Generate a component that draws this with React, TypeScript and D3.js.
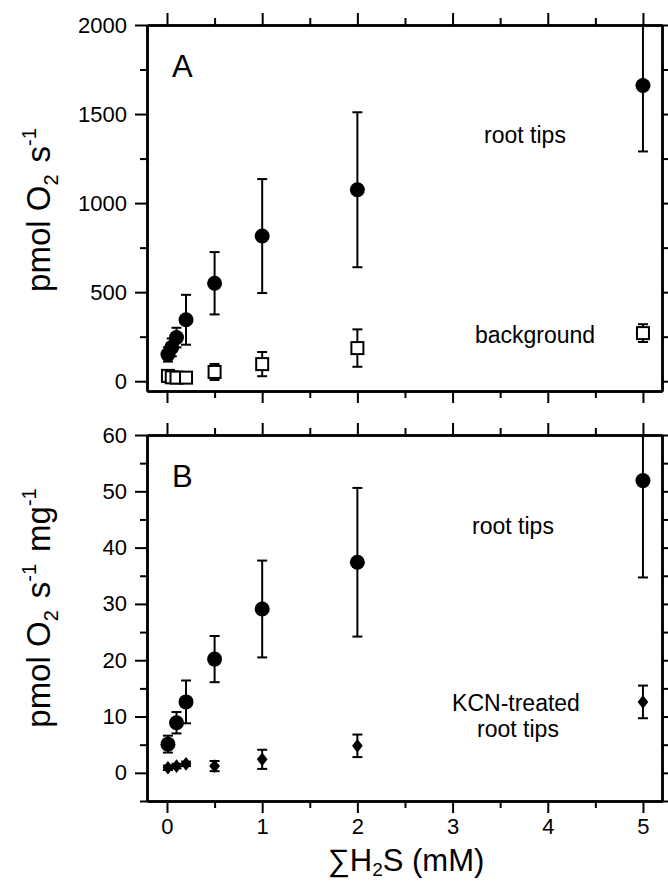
import React, { useEffect, useRef } from "react";
import * as d3 from "d3";

// x = total sulfide (mM)
const xTicks = [0, 1, 2, 3, 4, 5];
const xMinor = [0.5, 1.5, 2.5, 3.5, 4.5];

// panel A: pmol O2 s-1
const aTipsX = [0.01, 0.05, 0.1, 0.2, 0.5, 1, 2, 5];
const aTipsY = [150, 190, 245, 345, 550, 815, 1075, 1660];
const aTipsErr = [40, 50, 55, 140, 175, 320, 435, 370];
const aBgX = [0.01, 0.05, 0.1, 0.2, 0.5, 1, 2, 5];
const aBgY = [30, 22, 20, 20, 52, 96, 186, 270];
const aBgErr = [15, 10, 10, 10, 45, 68, 105, 50];
const aTicks = [0, 500, 1000, 1500, 2000];
const aMinor = [250, 750, 1250, 1750];

// panel B: pmol O2 s-1 mg-1
const bTipsX = [0.01, 0.1, 0.2, 0.5, 1, 2, 5];
const bTipsY = [5.1, 8.9, 12.6, 20.2, 29.1, 37.4, 51.9];
const bTipsErr = [1.5, 1.9, 3.8, 4.1, 8.6, 13.2, 17.2];
const bKcnX = [0.01, 0.1, 0.2, 0.5, 1, 2, 5];
const bKcnY = [0.9, 1.2, 1.6, 1.2, 2.4, 4.8, 12.6];
const bKcnErr = [0.4, 0.4, 0.4, 0.9, 1.7, 2.0, 2.9];
const bTicks = [0, 10, 20, 30, 40, 50, 60];
const bMinor = [-5, 5, 15, 25, 35, 45, 55];

const FONT = "'Liberation Sans', Arial, Helvetica, sans-serif";

const diamond = {
  draw(ctx: any, size: number) {
    const h = Math.sqrt(size) * 0.6;
    const w = h * 0.78;
    ctx.moveTo(0, -h);
    ctx.lineTo(w, 0);
    ctx.lineTo(0, h);
    ctx.lineTo(-w, 0);
    ctx.closePath();
  },
};

const App = () => {
  const ref = useRef<SVGSVGElement | null>(null);

  useEffect(() => {
    const svg = d3.select(ref.current);
    svg.selectAll("*").remove();

    const left = 147;
    const right = 662;
    const x = d3.scaleLinear().domain([-0.21, 5.2]).range([left, right]);

    const panels = [
      {
        id: "A",
        top: 25,
        bottom: 391,
        domain: [-55, 2000],
        ticks: aTicks,
        minor: aMinor,
        series: [
          { xs: aTipsX, ys: aTipsY, es: aTipsErr, kind: "circle" },
          { xs: aBgX, ys: aBgY, es: aBgErr, kind: "square" },
        ],
      },
      {
        id: "B",
        top: 435,
        bottom: 801,
        domain: [-5, 60],
        ticks: bTicks,
        minor: bMinor,
        series: [
          { xs: bTipsX, ys: bTipsY, es: bTipsErr, kind: "circle" },
          { xs: bKcnX, ys: bKcnY, es: bKcnErr, kind: "diamond" },
        ],
      },
    ];

    panels.forEach((p, pi) => {
      const y = d3.scaleLinear().domain(p.domain).range([p.bottom, p.top]);
      const g = svg.append("g");

      const styleAxis = (sel: any) => {
        sel.selectAll("path").attr("stroke-width", 2.5);
        sel.selectAll("line").attr("stroke-width", 2);
        sel.selectAll("text")
          .style("font-family", FONT)
          .style("font-size", "22px")
          .attr("fill", "#000");
      };

      // left axis
      g.append("g")
        .attr("transform", `translate(${left},0)`)
        .call(d3.axisLeft(y).tickValues(p.ticks).tickSize(12).tickSizeOuter(0).tickPadding(8).tickFormat(d3.format("d")))
        .call(styleAxis);
      g.append("g")
        .attr("transform", `translate(${left},0)`)
        .call(d3.axisLeft(y).tickValues(p.minor).tickSize(7).tickSizeOuter(0).tickFormat(() => ""))
        .call(styleAxis);
      // right axis
      g.append("g")
        .attr("transform", `translate(${right},0)`)
        .call(d3.axisRight(y).tickValues(p.ticks).tickSize(12).tickSizeOuter(0).tickFormat(() => ""))
        .call(styleAxis);
      g.append("g")
        .attr("transform", `translate(${right},0)`)
        .call(d3.axisRight(y).tickValues(p.minor).tickSize(7).tickSizeOuter(0).tickFormat(() => ""))
        .call(styleAxis);
      // top axis
      g.append("g")
        .attr("transform", `translate(0,${p.top})`)
        .call(d3.axisTop(x).tickValues(xTicks).tickSize(12).tickSizeOuter(0).tickFormat(() => ""))
        .call(styleAxis);
      g.append("g")
        .attr("transform", `translate(0,${p.top})`)
        .call(d3.axisTop(x).tickValues(xMinor).tickSize(7).tickSizeOuter(0).tickFormat(() => ""))
        .call(styleAxis);
      // bottom axis
      g.append("g")
        .attr("transform", `translate(0,${p.bottom})`)
        .call(
          d3.axisBottom(x).tickValues(xTicks).tickSize(12).tickSizeOuter(0).tickPadding(5)
            .tickFormat(pi === 1 ? d3.format("d") : () => "")
        )
        .call(styleAxis);
      g.append("g")
        .attr("transform", `translate(0,${p.bottom})`)
        .call(d3.axisBottom(x).tickValues(xMinor).tickSize(7).tickSizeOuter(0).tickFormat(() => ""))
        .call(styleAxis);

      const clipId = "clip" + p.id;
      svg.append("clipPath").attr("id", clipId)
        .append("rect")
        .attr("x", left).attr("y", p.top)
        .attr("width", right - left).attr("height", p.bottom - p.top);

      const plot = g.append("g").attr("clip-path", `url(#${clipId})`);

      p.series.forEach((s) => {
        const pts = s.xs.map((xv, i) => ({ x: xv, y: s.ys[i], e: s.es[i] }));
        const eg = plot.append("g").attr("stroke", "#000").attr("stroke-width", 2);
        pts.forEach((d) => {
          const cx = x(d.x);
          eg.append("line").attr("x1", cx).attr("x2", cx)
            .attr("y1", y(d.y - d.e)).attr("y2", y(d.y + d.e));
          eg.append("line").attr("x1", cx - 5).attr("x2", cx + 5)
            .attr("y1", y(d.y - d.e)).attr("y2", y(d.y - d.e));
          eg.append("line").attr("x1", cx - 5).attr("x2", cx + 5)
            .attr("y1", y(d.y + d.e)).attr("y2", y(d.y + d.e));
        });
        if (s.kind === "circle") {
          plot.selectAll(null).data(pts).enter().append("circle")
            .attr("cx", (d) => x(d.x)).attr("cy", (d) => y(d.y))
            .attr("r", 7.5).attr("fill", "#000");
        } else if (s.kind === "square") {
          plot.selectAll(null).data(pts).enter().append("rect")
            .attr("x", (d) => x(d.x) - 6).attr("y", (d) => y(d.y) - 6)
            .attr("width", 12).attr("height", 12)
            .attr("fill", "#fff").attr("stroke", "#000").attr("stroke-width", 2);
        } else {
          plot.selectAll(null).data(pts).enter().append("path")
            .attr("transform", (d) => `translate(${x(d.x)},${y(d.y)})`)
            .attr("d", d3.symbol().type(diamond as any).size(130)())
            .attr("fill", "#000");
        }
      });

      // panel letter
      g.append("text").attr("x", 172).attr("y", p.top + 52)
        .style("font-family", FONT).style("font-size", "31px").text(p.id);
    });

    const label = (xp: number, yp: number, t: string) =>
      svg.append("text").attr("x", xp).attr("y", yp).attr("text-anchor", "middle")
        .style("font-family", FONT).style("font-size", "23px").text(t);
    label(525, 143, "root tips");
    label(535, 343, "background");
    label(513, 534, "root tips");
    label(516, 711, "KCN-treated");
    label(518, 737, "root tips");

    // y titles
    const yTitle = (cy: number, withMg: boolean) => {
      const t = svg.append("text")
        .attr("transform", `translate(50,${cy}) rotate(-90)`)
        .attr("text-anchor", "middle")
        .style("font-family", FONT).style("font-size", "33px");
      t.append("tspan").text("pmol O");
      t.append("tspan").attr("dy", 8).style("font-size", "20px").text("2");
      t.append("tspan").attr("dy", -8).attr("dx", 12).text("s");
      t.append("tspan").attr("dy", -14).style("font-size", "20px").text("-1");
      if (withMg) {
        t.append("tspan").attr("dy", 14).attr("dx", 12).text("mg");
        t.append("tspan").attr("dy", -14).style("font-size", "20px").text("-1");
      }
    };
    yTitle(210, false);
    yTitle(608, true);

    // x title
    const xt = svg.append("text").attr("x", 406).attr("y", 871).attr("text-anchor", "middle")
      .style("font-family", FONT).style("font-size", "31px");
    xt.append("tspan").text("∑H");
    xt.append("tspan").attr("dy", 5).style("font-size", "19px").text("2");
    xt.append("tspan").attr("dy", -5).text("S (mM)");
  }, []);

  return (
    <svg
      ref={ref}
      width={668}
      height={882}
      style={{ position: "absolute", left: 0, top: 0, background: "#fff" }}
    ></svg>
  );
};

export default App;
